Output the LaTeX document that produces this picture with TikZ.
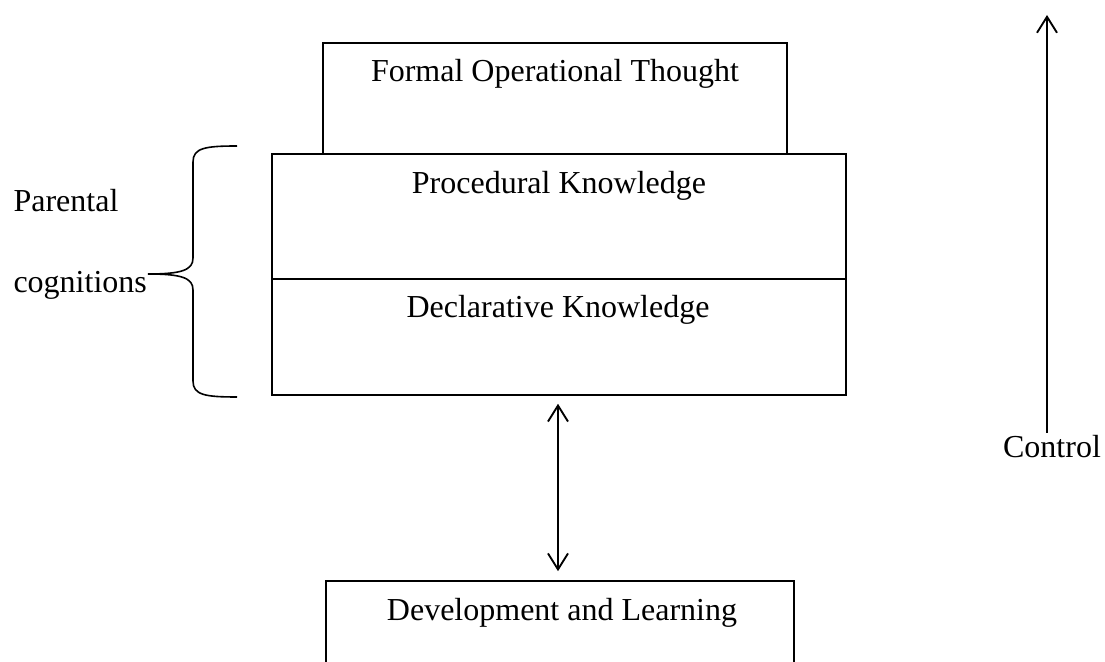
\documentclass[tikz,border=0pt]{standalone}
\usepackage{fontspec}
\setmainfont{Liberation Serif}
\usetikzlibrary{arrows.meta,calc,fit,positioning}
\tikzset{box/.style={draw,
      line width=0.6pt,
      inner sep=0pt
    },
  txt/.style={font=\fontsize{12}{14}\selectfont, inner sep=0pt, anchor=base},
  barb/.style={line width=0.7pt, -{Straight Barb[length=6pt,width=7.5pt]}},
  dbarb/.style={line width=0.7pt, {Straight Barb[length=6pt,width=7.5pt]}-{Straight Barb[length=6pt,width=7.5pt]}},
  brace line/.style={line width=0.6pt}
}

\begin{document}
\begin{tikzpicture}[x=0.375pt, y=-0.375pt]
    \useasboundingbox (0,0) rectangle (1105,662);
    \clip (0,0) rectangle (1105,662);
    % boxes
    \node[box, fit={(323,43) (787,154)}] (formal) {};
    \node[box, fit={(272,154) (846,279)}] (proc) {};
    \node[box, fit={(272,279) (846,395)}] (decl) {};
    \node[box, fit={(326,581) (794,720)}] (devl) {};
    % texts
    \node[txt] (formaltxt) at (555,82) {Formal Operational Thought};
    \node[txt] (proctxt) at (559,194) {Procedural Knowledge};
    \node[txt] (decltxt) at (558,318) {Declarative Knowledge};
    \node[txt] (devltxt) at (562,621) {Development and Learning};
    \node[txt, anchor=base west] (parental) at (13,212) {Parental};
    \node[txt, anchor=base west] (cognitions) at (13,293) {cognitions};
    \node[txt] (control) at (1052,458) {Control};
    % arrows
    \draw[dbarb] ($(decl.south)+(-1,8)$) -- ($(decl.south |- devl.north)+(-1,-9)$);
    \coordinate (ctop) at (1047,15);
    \coordinate (cbot) at (1047,433);
    \draw[barb] (cbot) -- (ctop);
    % brace
    \draw[brace line] (237,146) .. controls (205,146) and (193,148) .. (193,162)
        -- (193,258) .. controls (193,270) and (182,274) .. (148,274)
        .. controls (182,274) and (193,278) .. (193,290)
        -- (193,381) .. controls (193,395) and (205,397) .. (237,397);
\end{tikzpicture}
\end{document}
